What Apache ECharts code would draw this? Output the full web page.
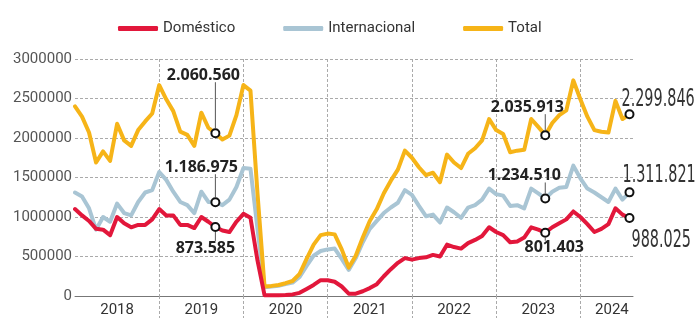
<!DOCTYPE html>
<html>
<head>
<meta charset="utf-8">
<style>
  html, body { margin: 0; padding: 0; background: #fff; }
  #chart { width: 697px; height: 318px; }
</style>
<script src="https://cdn.jsdelivr.net/npm/echarts@6/dist/echarts.min.js"></script>
</head>
<body>
<div id="chart"></div>
<script>
// monthly passengers, Jan 2018 .. Aug 2024
const years = ['2018', '2019', '2020', '2021', '2022', '2023', '2024'];

const domestico = [
  1100000, 1020000, 950000, 850000, 840000, 770000, 1000000, 920000, 870000, 900000, 900000, 970000,
  1100000, 1020000, 1020000, 900000, 900000, 860000, 1000000, 940000, 873585, 830000, 810000, 940000,
  1040000, 990000, 450000, 10000, 8000, 10000, 12000, 20000, 40000, 90000, 140000, 200000,
  200000, 180000, 120000, 30000, 30000, 60000, 100000, 150000, 250000, 340000, 420000, 480000,
  460000, 480000, 490000, 520000, 500000, 650000, 620000, 600000, 670000, 710000, 760000, 870000,
  810000, 770000, 680000, 690000, 740000, 870000, 840000, 801403, 870000, 920000, 970000, 1070000,
  1000000, 910000, 810000, 850000, 910000, 1110000, 1030000, 988025
];

const internacional = [
  1310000, 1260000, 1110000, 840000, 1000000, 940000, 1170000, 1050000, 1020000, 1190000, 1310000, 1340000,
  1570000, 1470000, 1320000, 1190000, 1150000, 1050000, 1320000, 1190000, 1186975, 1150000, 1220000, 1380000,
  1620000, 1610000, 850000, 110000, 120000, 130000, 150000, 170000, 240000, 380000, 510000, 570000,
  590000, 600000, 470000, 330000, 480000, 680000, 850000, 950000, 1050000, 1120000, 1180000, 1340000,
  1280000, 1140000, 1010000, 1030000, 930000, 1120000, 1060000, 990000, 1120000, 1150000, 1220000, 1360000,
  1290000, 1270000, 1140000, 1150000, 1110000, 1360000, 1300000, 1234510, 1320000, 1370000, 1380000, 1650000,
  1490000, 1360000, 1310000, 1250000, 1190000, 1360000, 1220000, 1311821
];

const total = [
  2400000, 2270000, 2070000, 1690000, 1830000, 1710000, 2180000, 1970000, 1900000, 2100000, 2210000, 2310000,
  2670000, 2490000, 2340000, 2080000, 2040000, 1900000, 2320000, 2130000, 2060560, 1980000, 2030000, 2290000,
  2670000, 2600000, 1300000, 120000, 128000, 140000, 162000, 190000, 280000, 470000, 650000, 770000,
  790000, 780000, 590000, 360000, 510000, 740000, 950000, 1100000, 1300000, 1460000, 1600000, 1840000,
  1750000, 1630000, 1530000, 1560000, 1440000, 1790000, 1690000, 1620000, 1800000, 1870000, 1970000, 2240000,
  2100000, 2050000, 1820000, 1840000, 1850000, 2240000, 2140000, 2035913, 2190000, 2290000, 2350000, 2730000,
  2490000, 2270000, 2100000, 2080000, 2070000, 2470000, 2240000, 2299846
];

// callouts: month index into the arrays above
const notes = [
  { data: total, month: 20 },
  { data: internacional, month: 20 },
  { data: domestico, month: 20 },
  { data: total, month: 67 },
  { data: internacional, month: 67 },
  { data: domestico, month: 67 },
  { data: total, month: 79 },
  { data: internacional, month: 79 },
  { data: domestico, month: 79 }
];

// where each callout text sits relative to its point (px), and its leader line
const noteLayout = [
  { dx: -12, dy: -58, line: [-51, -5] },
  { dx: -14, dy: -35, line: [-28, -5] },
  { dx: -10, dy: 21, line: [5, 14] },
  { dx: -18, dy: -28, line: [-21, -5] },
  { dx: -21, dy: -23, line: [-16, -5] },
  { dx: 9, dy: 15, line: [5, 8] },
  { dx: -8, dy: -15, big: true },
  { dx: -7, dy: -17, big: true },
  { dx: 2, dy: 23, big: true }
];

const yearLabelAt = [6, 18, 30, 42, 54, 66, 76.5];
const yearLines = [12, 24, 36, 48, 60, 72];

const RED = '#e2173b';
const BLUE = '#a9c5d4';
const YELLOW = '#f6b418';

function fmt(v) {
  return String(Math.round(v)).replace(/\B(?=(\d{3})+(?!\d))/g, '.');
}

function toPairs(arr) {
  return arr.map((v, i) => [i, v]);
}

function lineSeries(name, arr, color, z) {
  return {
    name,
    type: 'line',
    data: toPairs(arr),
    symbol: 'none',
    showSymbol: false,
    z,
    itemStyle: { color },
    lineStyle: { color, width: 4, join: 'round', cap: 'round' }
  };
}

const chart = echarts.init(document.getElementById('chart'), null, { renderer: 'canvas' });

chart.setOption({
  animation: false,
  textStyle: { fontFamily: 'Roboto, sans-serif' },
  legend: {
    data: ['Doméstico', 'Internacional', 'Total'],
    left: 113,
    top: 16,
    icon: 'roundRect',
    itemWidth: 40,
    itemHeight: 5,
    itemGap: 48,
    textStyle: { fontSize: 15, color: '#333', fontFamily: 'Roboto' }
  },
  grid: { left: 75, right: 64, top: 59, bottom: 22 },
  xAxis: [
    {
      type: 'value',
      min: 0,
      max: 79.5,
      interval: 12,
      axisLine: { show: true, onZero: false, lineStyle: { color: '#777', width: 1 } },
      axisTick: {
        show: true,
        customValues: yearLines,
        length: 22,
        lineStyle: { color: '#aaa', type: [3, 2] }
      },
      axisLabel: { show: false },
      splitLine: { show: true, lineStyle: { color: '#aaa', type: [3, 2], width: 1 } }
    },
    {
      type: 'value',
      position: 'bottom',
      min: 0,
      max: 79.5,
      interval: 0.5,
      axisLine: { show: false },
      axisTick: { show: false },
      splitLine: { show: false },
      axisLabel: {
        margin: 7,
        fontSize: 15,
        color: '#333',
        fontFamily: 'Roboto',
        formatter(v) {
          const k = yearLabelAt.indexOf(v);
          return k >= 0 ? years[k] : '';
        }
      }
    }
  ],
  yAxis: {
    type: 'value',
    min: 0,
    max: 3000000,
    interval: 500000,
    axisLine: { show: false },
    axisTick: { show: false },
    axisLabel: {
      color: '#555',
      fontSize: 15,
      margin: 3,
      fontFamily: 'Roboto',
      formatter: v => String(v)
    },
    splitLine: { lineStyle: { color: '#aaa', type: [3, 2], width: 1 } }
  },
  series: [
    lineSeries('Internacional', internacional, BLUE, 2),
    lineSeries('Total', total, YELLOW, 3),
    lineSeries('Doméstico', domestico, RED, 4),
    {
      type: 'custom',
      z: 10,
      data: notes.map(n => [n.month, n.data[n.month]]),
      renderItem(params, api) {
        const lay = noteLayout[params.dataIndex];
        const p = api.coord([api.value(0), api.value(1)]);
        const children = [];
        if (lay.line) {
          children.push({
            type: 'line',
            shape: { x1: p[0], y1: p[1] + lay.line[0], x2: p[0], y2: p[1] + lay.line[1] },
            style: { stroke: '#555', lineWidth: 1 }
          });
        }
        children.push({
          type: 'circle',
          shape: { cx: p[0], cy: p[1], r: 4 },
          style: { fill: '#fff', stroke: '#111', lineWidth: 2 }
        });
        children.push({
          type: 'text',
          x: p[0] + lay.dx,
          y: p[1] + lay.dy,
          scaleX: lay.big ? 0.8 : 1,
          scaleY: lay.big ? 1.25 : 1,
          style: {
            text: fmt(api.value(1)),
            fill: lay.big ? '#333' : '#222',
            font: lay.big
              ? "20px 'Liberation Sans Narrow', 'DejaVu Sans Condensed', sans-serif"
              : "bold 16px 'Open Sans', sans-serif",
            align: lay.big ? 'left' : 'center',
            verticalAlign: 'middle'
          }
        });
        return { type: 'group', children };
      }
    }
  ]
});
</script>
</body>
</html>
